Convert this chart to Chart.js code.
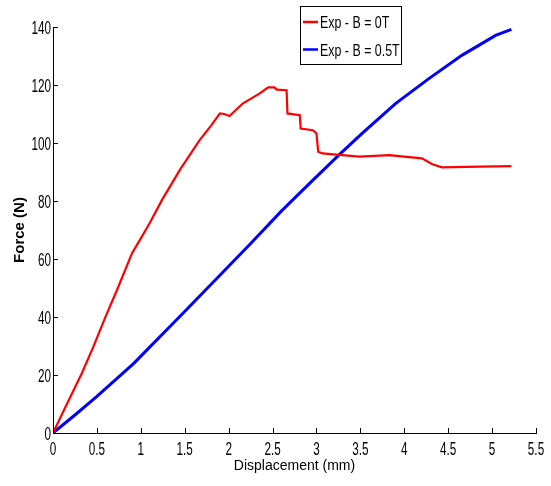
<!DOCTYPE html>
<html lang="en">
<head>
<meta charset="UTF-8">
<title>Force vs Displacement</title>
<script src="https://cdn.jsdelivr.net/npm/chart.js"></script>
<style>
  body { margin: 0; background: #fff; }
  #wrap { width: 551px; height: 486px; position: relative; }
</style>
</head>
<body>
<div id="wrap"><canvas id="forceChart"></canvas></div>
<script>
// data
var redLabel = 'Exp - B = 0T';
var redDisp  = [0, 0.15, 0.33, 0.46, 0.60, 0.73, 0.90, 0.99, 1.10, 1.24, 1.45, 1.67, 1.80, 1.90, 1.95, 2.01, 2.16, 2.35, 2.45, 2.52, 2.55, 2.66, 2.67, 2.81, 2.82, 2.96, 3.00, 3.02, 3.07, 3.26, 3.49, 3.83, 3.94, 4.20, 4.32, 4.43, 4.70, 5.22];
var redForce = [0, 9.5, 20.7, 29.8, 40.2, 49.4, 62, 66.6, 72.3, 80.3, 91, 101, 106, 110.2, 110, 109.3, 113.6, 117, 119.2, 119.2, 118.4, 118.2, 110.2, 109.6, 105, 104.4, 103.3, 97, 96.4, 95.9, 95.3, 95.8, 95.5, 94.7, 92.7, 91.6, 91.8, 92];

var blueLabel = 'Exp - B = 0.5T';
var blueDisp  = [0, 0.25, 0.5, 0.92, 1.48, 2.0, 2.24, 2.6, 2.96, 3.26, 3.52, 3.9, 4.28, 4.66, 5.04, 5.22];
var blueForce = [0, 6.2, 12.6, 24, 41.3, 57.5, 65, 76.5, 87.2, 96, 103.3, 113.6, 122.2, 130.3, 137.1, 139.2];

var xTitle = 'Displacement (mm)';
var yTitle = 'Force (N)';

var sans = '"Liberation Sans", Arial, sans-serif';

function toPoints(xs, ys) {
    return xs.map(function (x, i) { return { x: x, y: ys[i] }; });
}

function fmt(v) {
    return String(+v.toFixed(1));
}

// text squeezed horizontally, like the narrow font of the original figure
function squeezed(ctx, text, x, y, align, k) {
    ctx.save();
    ctx.translate(x, y);
    ctx.scale(k, 1);
    ctx.textAlign = align;
    ctx.textBaseline = 'alphabetic';
    ctx.fillText(text, 0, 0);
    ctx.restore();
}

// matlab style: ticks pointing into the plot, narrow tick labels
var matlabAxes = {
    id: 'matlabAxes',
    afterDatasetsDraw: function (chart) {
        var ctx = chart.ctx, area = chart.chartArea;
        var xs = chart.scales.x, ys = chart.scales.y;
        ctx.save();
        ctx.strokeStyle = '#000';
        ctx.lineWidth = 1;
        ctx.beginPath();
        xs.ticks.forEach(function (t) {
            var px = Math.round(xs.getPixelForValue(t.value)) + 0.5;
            ctx.moveTo(px, area.bottom);
            ctx.lineTo(px, area.bottom - 5);
        });
        ys.ticks.forEach(function (t) {
            var py = Math.round(ys.getPixelForValue(t.value)) + 0.5;
            ctx.moveTo(area.left, py);
            ctx.lineTo(area.left + 5, py);
        });
        ctx.stroke();

        ctx.fillStyle = '#000';
        ctx.font = '18px ' + sans;
        xs.ticks.forEach(function (t) {
            squeezed(ctx, fmt(t.value), xs.getPixelForValue(t.value), area.bottom + 22, 'center', 0.65);
        });
        ys.ticks.forEach(function (t) {
            squeezed(ctx, fmt(t.value), area.left - 2, ys.getPixelForValue(t.value) + 6.5, 'right', 0.65);
        });
        ctx.restore();
    }
};

// boxed legend in the upper part of the plot
var boxLegend = {
    id: 'boxLegend',
    afterDraw: function (chart) {
        var ctx = chart.ctx;
        var bx = 300.5, by = 6.5, bw = 101, bh = 58;
        ctx.save();
        ctx.fillStyle = '#fff';
        ctx.fillRect(bx, by, bw, bh);
        ctx.strokeStyle = '#000';
        ctx.lineWidth = 1;
        ctx.strokeRect(bx, by, bw, bh);
        ctx.font = '17px ' + sans;
        chart.data.datasets.forEach(function (ds, i) {
            var y = 22 + i * 27.5;
            ctx.strokeStyle = ds.borderColor;
            ctx.lineWidth = 2.5;
            ctx.beginPath();
            ctx.moveTo(303, y);
            ctx.lineTo(318, y);
            ctx.stroke();
            ctx.fillStyle = '#000';
            squeezed(ctx, ds.label, 320, y + 6, 'left', 0.73);
        });
        ctx.restore();
    }
};

var ctx = document.getElementById('forceChart').getContext('2d');
var chart = new Chart(ctx, {
    type: 'scatter',
    data: {
        datasets: [{
            label: redLabel,
            data: toPoints(redDisp, redForce),
            showLine: true,
            borderColor: '#ff0000',
            borderWidth: 2.2,
            pointRadius: 0,
            tension: 0
        }, {
            label: blueLabel,
            data: toPoints(blueDisp, blueForce),
            showLine: true,
            borderColor: '#0000ff',
            borderWidth: 3,
            pointRadius: 0,
            tension: 0
        }]
    },
    options: {
        responsive: true,
        maintainAspectRatio: false,
        animation: false,
        layout: { padding: { top: 27, right: 15, left: 0, bottom: 0 } },
        plugins: {
            legend: { display: false },
            tooltip: { enabled: false }
        },
        scales: {
            x: {
                type: 'linear',
                min: 0,
                max: 5.5,
                grid: { display: false },
                border: { display: true, color: '#000', width: 1 },
                ticks: { stepSize: 0.5, display: false },
                title: {
                    display: true,
                    text: xTitle,
                    color: '#000',
                    font: { family: sans, size: 14 },
                    padding: { top: 0, bottom: 11 }
                },
                afterFit: function (scale) { scale.height = 53; }
            },
            y: {
                type: 'linear',
                min: 0,
                max: 140,
                grid: { display: false },
                border: { display: true, color: '#000', width: 1 },
                ticks: { stepSize: 20, display: false },
                title: {
                    display: true,
                    text: yTitle,
                    color: '#000',
                    font: { family: sans, size: 15, weight: 'bold' },
                    padding: { top: 11, bottom: 0 }
                },
                afterFit: function (scale) { scale.width = 53; }
            }
        }
    },
    plugins: [matlabAxes, boxLegend]
});
</script>
</body>
</html>
